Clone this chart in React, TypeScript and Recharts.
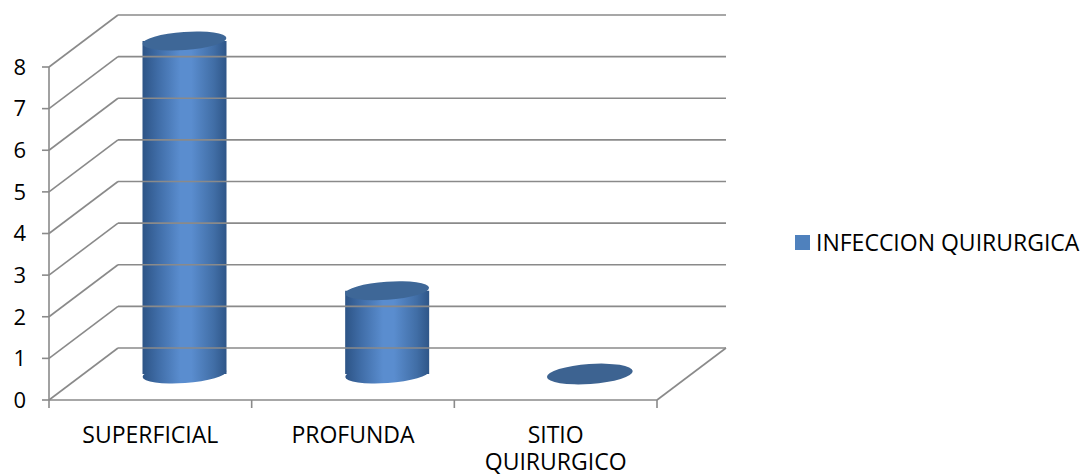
import * as React from "react";
import { BarChart, Bar, XAxis, YAxis, ReferenceLine } from "recharts";

const categories = ["SUPERFICIAL", "PROFUNDA", "SITIO QUIRURGICO"];
const infeccionQuirurgica = [8, 2, 0];
const yTicks = [0, 1, 2, 3, 4, 5, 6, 7, 8];
const seriesName = "INFECCION QUIRURGICA";

const data = categories.map((name, i) => ({ name, value: infeccionQuirurgica[i] }));

const GRID = "#8a8a8a";
const FONT = '"Open Sans", sans-serif';
// 3d depth of the chart box, in px
const DEPTH_X = 69;
const DEPTH_Y = 52;
const MAX_LINE_CHARS = 12;

const WallLine = ({ x1, y1, x2, floor }: any) => {
  const bx1 = x1 + DEPTH_X;
  const bx2 = x2 + DEPTH_X;
  const by = y1 - DEPTH_Y;
  const n = categories.length;
  return (
    <g stroke={GRID} strokeWidth={1.6} fill="none">
      <line x1={x1} y1={y1} x2={bx1} y2={by} />
      <line x1={bx1} y1={by} x2={bx2} y2={by} />
      {floor && <line x1={x2} y1={y1} x2={bx2} y2={by} />}
      {floor &&
        categories.map((_, i) => {
          const tx = x1 + ((x2 - x1) * i) / n;
          return <line key={i} x1={tx} y1={y1} x2={tx} y2={y1 + 8} />;
        })}
      {floor && <line x1={x2} y1={y1} x2={x2} y2={y1 + 8} />}
    </g>
  );
};

const Cylinder = (props: any) => {
  const { x, y, width, height, index } = props;
  const cx = x + width / 2 + DEPTH_X / 2;
  const rx = width / 2;
  const ry = 9;
  const top = y - DEPTH_Y / 2;
  const bottom = y + height - DEPTH_Y / 2;
  const gid = `cyl-${index}`;
  if (!height || height < 1) {
    return <ellipse cx={cx} cy={bottom} rx={rx + 1} ry={ry + 1} fill="#3d6391" transform={`rotate(-4 ${cx} ${bottom})`} />;
  }
  return (
    <g>
      <defs>
        <linearGradient id={gid} x1="0" y1="0" x2="1" y2="0">
          <stop offset="0%" stopColor="#2d5486" />
          <stop offset="18%" stopColor="#3f6ca6" />
          <stop offset="45%" stopColor="#5a8dcf" />
          <stop offset="58%" stopColor="#5a8dcf" />
          <stop offset="85%" stopColor="#416ea6" />
          <stop offset="100%" stopColor="#2f5688" />
        </linearGradient>
      </defs>
      <ellipse cx={cx} cy={bottom} rx={rx} ry={ry} fill={`url(#${gid})`} transform={`rotate(-4 ${cx} ${bottom})`} />
      <rect x={cx - rx} y={top} width={rx * 2} height={bottom - top} fill={`url(#${gid})`} />
      <ellipse cx={cx} cy={top} rx={rx} ry={ry} fill="#3e6797" transform={`rotate(-4 ${cx} ${top})`} />
    </g>
  );
};

const wrapLabel = (label: string) => {
  const lines: string[] = [];
  label.split(" ").forEach((w) => {
    const last = lines[lines.length - 1];
    if (last && (last + " " + w).length <= MAX_LINE_CHARS) lines[lines.length - 1] = last + " " + w;
    else lines.push(w);
  });
  return lines;
};

const CategoryTick = ({ x, y, payload }: any) => (
  <text x={x} y={y + 35} textAnchor="middle" fontSize={23} fontFamily={FONT} fill="#000">
    {wrapLabel(payload.value).map((line, i) => (
      <tspan key={i} x={x} dy={i === 0 ? 0 : 27}>
        {line}
      </tspan>
    ))}
  </text>
);

export default function App() {
  return (
    <div style={{ position: "absolute", left: 0, top: 0, width: 1085, height: 476, background: "#fff", fontFamily: FONT }}>
      <BarChart width={1085} height={476} data={data} margin={{ top: 67, right: 428, bottom: 16, left: 9 }}>
        {yTicks.map((k) => (
          <ReferenceLine key={k} y={k} stroke={GRID} shape={(p: any) => <WallLine {...p} floor={k === 0} />} />
        ))}
        <XAxis
          dataKey="name"
          height={60}
          tickLine={false}
          axisLine={{ stroke: GRID, strokeWidth: 1.6 }}
          tick={<CategoryTick />}
          interval={0}
        />
        <YAxis
          width={40}
          domain={[0, 8]}
          ticks={yTicks}
          tickSize={7}
          tickMargin={16}
          axisLine={{ stroke: GRID, strokeWidth: 1.6 }}
          tickLine={{ stroke: GRID, strokeWidth: 1.6 }}
          tick={{ fill: "#000", fontSize: 22, fontFamily: FONT }}
        />
        <Bar dataKey="value" name={seriesName} barSize={84} shape={<Cylinder />} isAnimationActive={false} />
      </BarChart>
      <div
        style={{
          position: "absolute",
          left: 795,
          top: 226,
          display: "flex",
          alignItems: "center",
          fontSize: 23,
          color: "#000",
          whiteSpace: "nowrap",
        }}
      >
        <span style={{ display: "inline-block", width: 15, height: 15, background: "#4f81bd", marginRight: 6 }} />
        {seriesName}
      </div>
    </div>
  );
}
